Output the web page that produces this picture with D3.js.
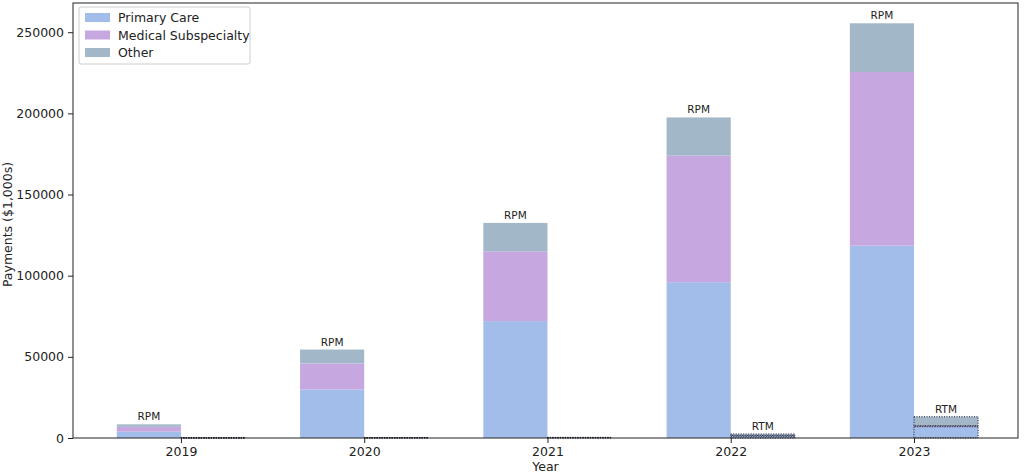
<!DOCTYPE html>
<html>
<head>
<meta charset="utf-8">
<script src="https://cdn.jsdelivr.net/npm/d3@7"></script>
<style>
  body { margin: 0; background: #fff; }
  svg { font-family: "DejaVu Sans", sans-serif; }
</style>
</head>
<body>
<svg id="chart" width="1024" height="474"></svg>
<script>
// ---- data ----
const years = [2019, 2020, 2021, 2022, 2023];
const seriesNames = ["Primary Care", "Medical Subspecialty", "Other"];
const rpmPrimary = [3900, 29900, 72000, 96000, 118500];
const rpmMedical = [3000, 16000, 43000, 78000, 107000];
const rpmOther = [1500, 8600, 17500, 23500, 30000];
const rtmPrimary = [100, 150, 200, 1200, 7000];
const rtmMedical = [50, 50, 100, 300, 600];
const rtmOther = [50, 100, 100, 1000, 5500];
const rtmLabelYears = [2022, 2023];
const yTicks = [0, 50000, 100000, 150000, 200000, 250000];
const colors = ["#a3bdea", "#c7a7e0", "#a2b7c7"];

const svg = d3.select("#chart");
const plotL = 73, plotR = 1018, plotT = 3, plotB = 438;
const barW = 0.35;

const xScale = d3.scaleLinear().domain([2018.411, 2023.5675]).range([plotL, plotR]);
const yScale = d3.scaleLinear().domain([0, 268000]).range([plotB, plotT]);

// stack helper
function stackUp(a, b, c) {
  return years.map((yr, i) => {
    let y0 = 0;
    return [a[i], b[i], c[i]].map((v, k) => {
      const seg = { year: yr, k: k, y0: y0, y1: y0 + v };
      y0 += v;
      return seg;
    });
  });
}
const rpm = stackUp(rpmPrimary, rpmMedical, rpmOther);
const rtm = stackUp(rtmPrimary, rtmMedical, rtmOther);

const bw = xScale(2019 + barW) - xScale(2019);

// RPM bars: right edge on the tick
svg.append("g").selectAll("rect")
  .data(rpm.flat())
  .enter().append("rect")
  .attr("x", d => xScale(d.year - barW))
  .attr("width", bw)
  .attr("y", d => yScale(d.y1))
  .attr("height", d => yScale(d.y0) - yScale(d.y1))
  .attr("fill", d => colors[d.k]);

// RTM bars: left edge on the tick, dotted outline
svg.append("g").selectAll("rect")
  .data(rtm.flat())
  .enter().append("rect")
  .attr("x", d => xScale(d.year))
  .attr("width", bw)
  .attr("y", d => yScale(d.y1))
  .attr("height", d => yScale(d.y0) - yScale(d.y1))
  .attr("fill", d => colors[d.k])
  .attr("stroke", "#1a1a2e")
  .attr("stroke-width", 1)
  .attr("stroke-dasharray", "1,1.5");

// labels over bars
svg.append("g").selectAll("text")
  .data(rpm)
  .enter().append("text")
  .attr("x", d => xScale(d[0].year - barW / 2))
  .attr("y", d => yScale(d[2].y1) - 4)
  .attr("text-anchor", "middle")
  .attr("font-size", "10.5px")
  .attr("fill", "#222")
  .text("RPM");

svg.append("g").selectAll("text")
  .data(rtm.filter(d => rtmLabelYears.includes(d[0].year)))
  .enter().append("text")
  .attr("x", d => xScale(d[0].year + barW / 2))
  .attr("y", d => yScale(d[2].y1) - 4)
  .attr("text-anchor", "middle")
  .attr("font-size", "10.5px")
  .attr("fill", "#222")
  .text("RTM");

// axes
const xAxis = d3.axisBottom(xScale).tickValues(years).tickFormat(d3.format("d")).tickSizeOuter(0).tickSize(5).tickPadding(4);
const yAxis = d3.axisLeft(yScale).tickValues(yTicks).tickFormat(d3.format("d")).tickSizeOuter(0).tickSize(5).tickPadding(4);

const gx = svg.append("g").attr("transform", `translate(0,${plotB})`).call(xAxis);
const gy = svg.append("g").attr("transform", `translate(${plotL},0)`).call(yAxis);
[gx, gy].forEach(g => {
  g.select(".domain").remove();
  g.selectAll("text").attr("font-size", "12.5px").attr("fill", "#222").attr("font-family", "DejaVu Sans");
  g.selectAll("line").attr("stroke", "#222");
});

// frame
svg.append("rect")
  .attr("x", plotL).attr("y", plotT)
  .attr("width", plotR - plotL).attr("height", plotB - plotT)
  .attr("fill", "none").attr("stroke", "#222").attr("stroke-width", 1);

// axis titles
svg.append("text")
  .attr("x", (plotL + plotR) / 2).attr("y", 471)
  .attr("text-anchor", "middle").attr("font-size", "12.5px").attr("fill", "#222")
  .text("Year");
svg.append("text")
  .attr("transform", `translate(12,${(plotT + plotB) / 2 + 4}) rotate(-90)`)
  .attr("text-anchor", "middle").attr("font-size", "12.5px").attr("fill", "#222")
  .text("Payments ($1,000s)");

// legend
const legend = svg.append("g").attr("transform", "translate(79,7)");
legend.append("rect")
  .attr("width", 171).attr("height", 57).attr("rx", 2)
  .attr("fill", "#fff").attr("fill-opacity", 0.8)
  .attr("stroke", "#ccc");
seriesNames.forEach((name, i) => {
  legend.append("rect")
    .attr("x", 6).attr("y", 6 + i * 17.5)
    .attr("width", 25).attr("height", 9)
    .attr("fill", colors[i]);
  legend.append("text")
    .attr("x", 39).attr("y", 15 + i * 17.5)
    .attr("font-size", "12.5px").attr("fill", "#222")
    .text(name);
});
</script>
</body>
</html>
